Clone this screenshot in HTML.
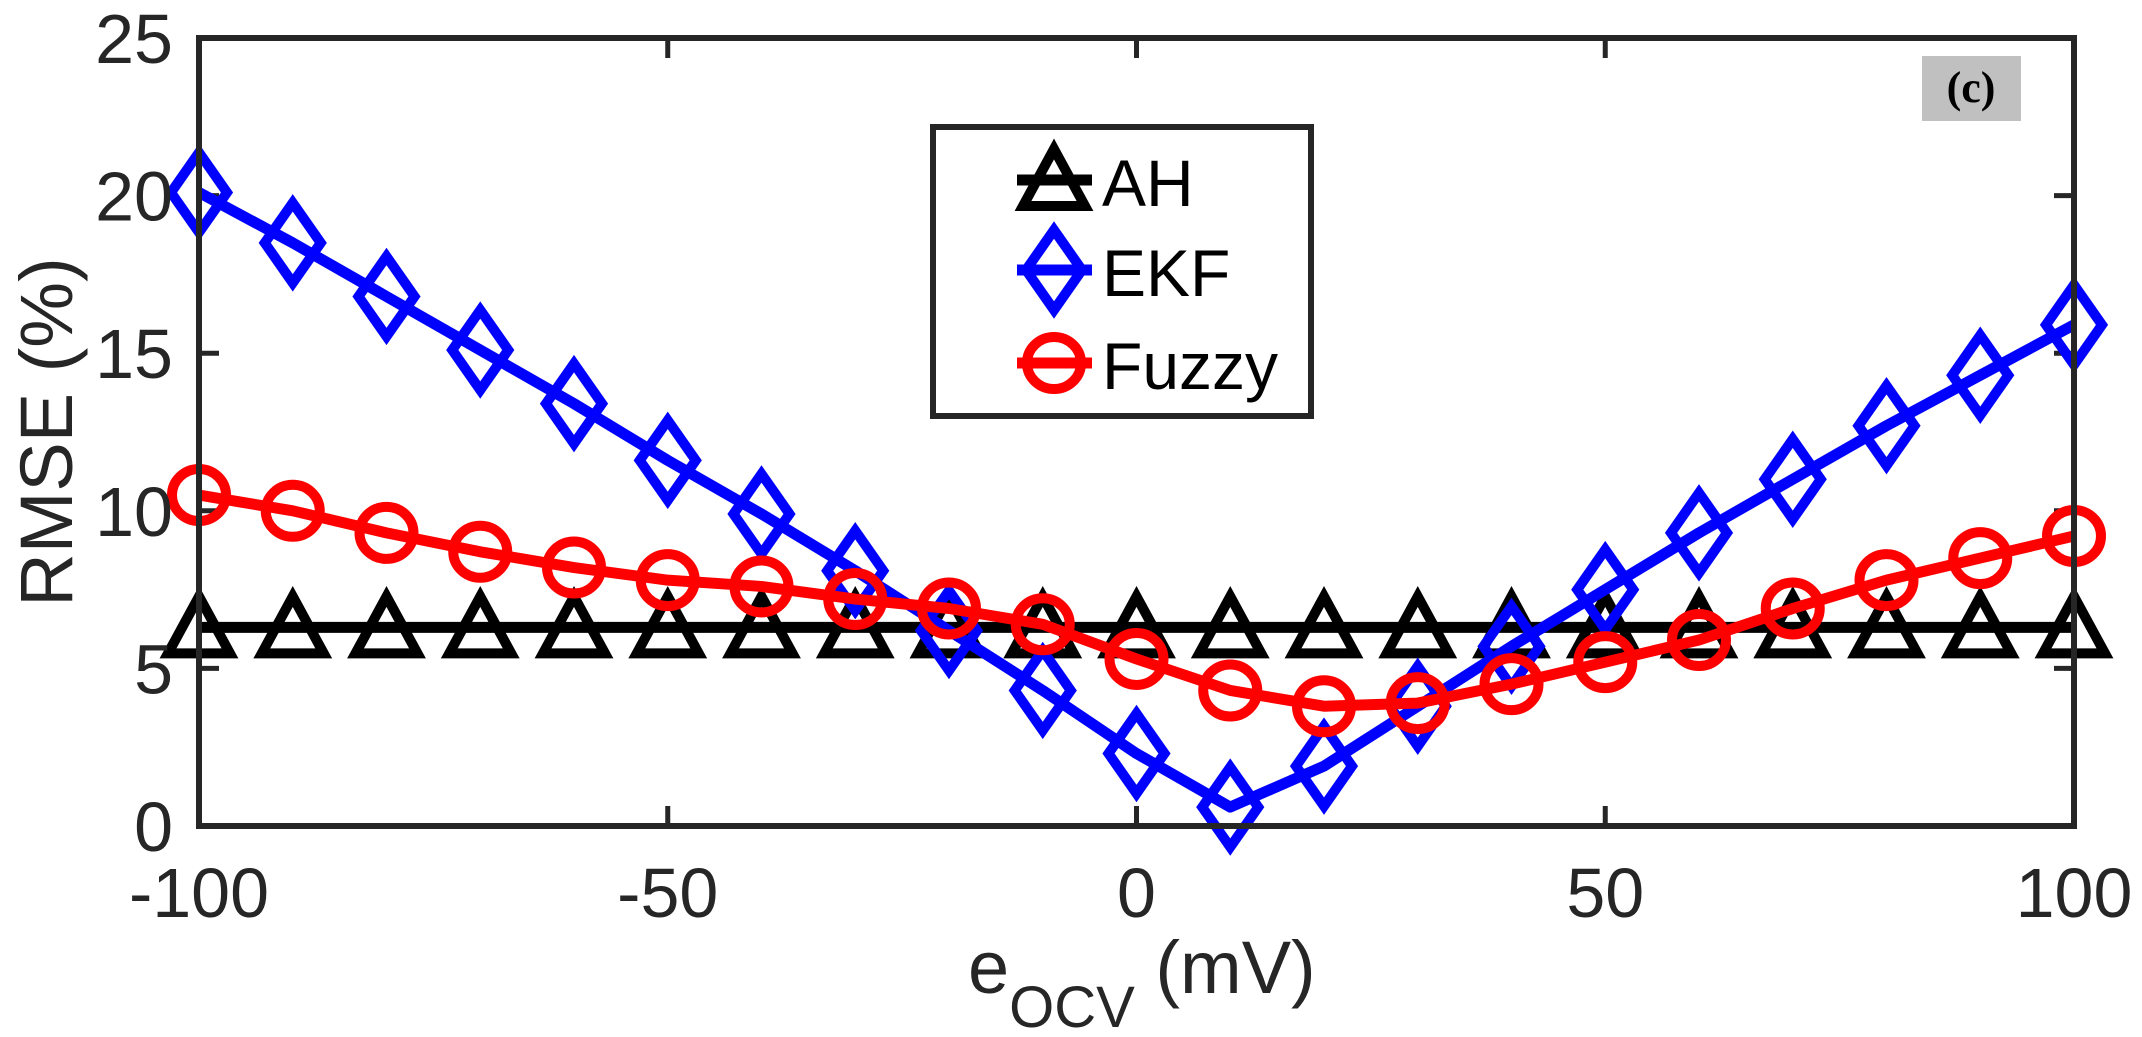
<!DOCTYPE html>
<html><head><meta charset="utf-8"><style>
html,body{margin:0;padding:0;background:#fff;}
svg{display:block;font-family:"Liberation Sans",Arial,sans-serif;}
</style></head><body>
<svg id="chart" width="2142" height="1037" viewBox="0 0 2142 1037" xmlns="http://www.w3.org/2000/svg">
<rect x="0" y="0" width="2142" height="1037" fill="#fff"/>
<g id="grid-ticks"></g>
<g id="series"></g>
<rect x="199" y="38" width="1875" height="788" fill="none" stroke="#262626" stroke-width="6"/>
<g id="labels" fill="#262626" font-size="70"></g>
<text x="968" y="993" font-size="74" fill="#262626">e<tspan font-size="58" dy="34">OCV</tspan><tspan dy="-34"> (mV)</tspan></text>
<text transform="translate(72,432) rotate(-90)" text-anchor="middle" font-size="74" fill="#262626">RMSE (%)</text>
<g>
<rect x="1922" y="56" width="99" height="65" fill="#c0c0c0"/>
<text x="1971" y="102" text-anchor="middle" font-family="Liberation Serif, serif" font-weight="bold" font-size="44" fill="#000">(c)</text>
</g>
<g>
<rect x="933" y="127" width="378" height="289" fill="#fff" stroke="#262626" stroke-width="6"/>
<g id="legend-items"></g>
</g>
</svg>
<script>
const xValues = [-100,-90,-80,-70,-60,-50,-40,-30,-20,-10,0,10,20,30,40,50,60,70,80,90,100];
const ahValues = [6.3,6.3,6.3,6.3,6.3,6.3,6.3,6.3,6.3,6.3,6.3,6.3,6.3,6.3,6.3,6.3,6.3,6.3,6.3,6.3,6.3];
const ekfValues = [20.1,18.5,16.8,15.1,13.4,11.6,9.9,8.1,6.2,4.3,2.3,0.6,1.9,3.8,5.7,7.5,9.3,11.0,12.7,14.3,15.9];
const fuzzyValues = [10.5,10.0,9.3,8.7,8.2,7.8,7.6,7.2,6.9,6.4,5.3,4.3,3.8,3.9,4.5,5.2,5.9,6.9,7.8,8.5,9.2];
const xTicks = [-100,-50,0,50,100];
const yTicks = [0,5,10,15,20,25];
const seriesNames = ["AH","EKF","Fuzzy"];

const NS="http://www.w3.org/2000/svg";
const X0=199,X1=2074,Y0=826,Y1=38;
function sx(v){return X0+(v+100)/200*(X1-X0);}
function sy(v){return Y0-(v/25)*(Y0-Y1);}
function mk(tag,attrs,parent){const e=document.createElementNS(NS,tag);for(const k in attrs)e.setAttribute(k,attrs[k]);parent.appendChild(e);return e;}

const gt=document.getElementById('grid-ticks');
const lab=document.getElementById('labels');
xTicks.forEach(v=>{
  const x=sx(v);
  const t=mk('path',{d:`M${x},${Y0}V${Y0-20}M${x},${Y1}V${Y1+20}`,stroke:'#262626','stroke-width':5},gt);
  
  
  const l=mk('text',{x:x,y:917,'text-anchor':'middle'},lab);
  l.textContent=v;
  
  
});
yTicks.forEach(v=>{
  const y=sy(v);
  const t=mk('path',{d:`M${X0},${y}H${X0+20}M${X1},${y}H${X1-20}`,stroke:'#262626','stroke-width':5},gt);
  
  
  const l=mk('text',{x:173,y:y+25,'text-anchor':'end'},lab);
  l.textContent=v;
  
  
});

function marker(type,x,y,color,parent){
  let e;
  if(type==='tri') e=mk('path',{d:`M${x},${y-31}L${x+31},${y+26}L${x-31},${y+26}Z`},parent);
  else if(type==='dia') e=mk('path',{d:`M${x},${y-40}L${x+28},${y}L${x},${y+40}L${x-28},${y}Z`},parent);
  else e=mk('ellipse',{cx:x,cy:y,rx:27,ry:26},parent);
  e.setAttribute('fill','none');e.setAttribute('stroke',color);e.setAttribute('stroke-width',10);
  return e;
}
const sg=document.getElementById('series');
const defs=[[ahValues,'#000','tri','ah'],[ekfValues,'#0000ff','dia','ekf'],[fuzzyValues,'#ff0000','circ','fuzzy']];
defs.forEach(([vals,color,type,name])=>{
  const g=mk('g',{},sg);
  
  
  const pts=vals.map((v,i)=>sx(xValues[i])+','+sy(v)).join(' ');
  const pl=mk('polyline',{points:pts,fill:'none',stroke:color,'stroke-width':11,'stroke-linejoin':'round'},g);
  
  
  vals.forEach((v,i)=>{
    const m=marker(type,sx(xValues[i]),sy(v),color,g);
    
    
  });
});

const lg=document.getElementById('legend-items');
const legY=[180,270,363];
defs.forEach(([vals,color,type,name],i)=>{
  const g=mk('g',{},lg);
  
  
  mk('line',{x1:1017,x2:1092,y1:legY[i],y2:legY[i],stroke:color,'stroke-width':11},g);
  marker(type,1054,legY[i],color,g);
  const t=mk('text',{x:1102,y:legY[i]+26,'font-size':66,fill:'#000'},g);
  t.textContent=seriesNames[i];
});
</script>
</body></html>
